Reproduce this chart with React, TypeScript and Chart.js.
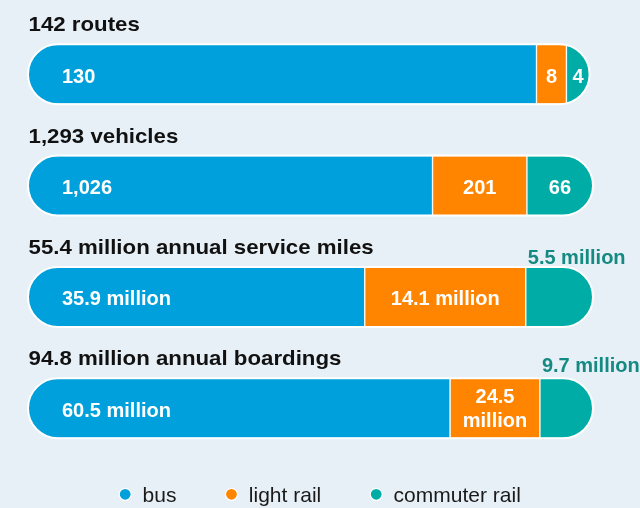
import React, { useEffect, useRef } from "react";
import { Chart, registerables } from "chart.js";

Chart.register(...registerables);

// ---- data ----
const categories = ["routes", "vehicles", "annual service miles", "annual boardings"];
const titles = [
  "142 routes",
  "1,293 vehicles",
  "55.4 million annual service miles",
  "94.8 million annual boardings",
];
const seriesNames = ["bus", "light rail", "commuter rail"];
// bar segment lengths as drawn in the picture (percent of full bar length)
const busShare = [90.0, 71.6, 59.6, 74.7];
const lightRailShare = [5.3, 16.7, 28.5, 15.9];
const commuterRailShare = [4.1, 11.7, 11.9, 9.4];
// value labels
const busLabels = ["130", "1,026", "35.9 million", "60.5 million"];
const lightRailLabels = ["8", "201", "14.1 million", "24.5\nmillion"];
const commuterRailLabels = ["4", "66", "5.5 million", "9.7 million"];

// ---- style ----
const BG = "#e7f0f7";
const COLORS = ["#00a0dc", "#ff8400", "#00aca6"];
const TEAL_TEXT = "#148a82";
const FONT = '"Liberation Sans", Arial, Helvetica, sans-serif';

function pillSubPath(ctx: CanvasRenderingContext2D, left: number, right: number, top: number, bottom: number) {
  const r = (bottom - top) / 2;
  ctx.moveTo(left + r, top);
  ctx.lineTo(right - r, top);
  ctx.arc(right - r, top + r, r, -Math.PI / 2, Math.PI / 2);
  ctx.lineTo(left + r, bottom);
  ctx.arc(left + r, top + r, r, Math.PI / 2, (3 * Math.PI) / 2);
  ctx.closePath();
}

function barGeom(chart: any, i: number) {
  const b0: any = chart.getDatasetMeta(0).data[i];
  const b1: any = chart.getDatasetMeta(1).data[i];
  const b2: any = chart.getDatasetMeta(2).data[i];
  const h = b0.height;
  return {
    left: b0.base,
    right: b2.x,
    y: b0.y,
    top: b0.y - h / 2,
    bottom: b0.y + h / 2,
    seg: [
      [b0.base, b0.x],
      [b1.base, b1.x],
      [b2.base, b2.x],
    ],
  };
}

function drawText(
  ctx: CanvasRenderingContext2D,
  text: string,
  x: number,
  y: number,
  align: CanvasTextAlign,
  sx: number
) {
  ctx.save();
  ctx.translate(x, y);
  ctx.scale(sx, 1);
  ctx.textAlign = align;
  ctx.textBaseline = "alphabetic";
  ctx.fillText(text, 0, 0);
  ctx.restore();
}

const pillPlugin = {
  id: "pillPlugin",
  beforeDraw(chart: any) {
    const ctx = chart.ctx;
    ctx.save();
    ctx.fillStyle = BG;
    ctx.fillRect(0, 0, chart.width, chart.height);
    ctx.restore();
  },
  beforeDatasetsDraw(chart: any) {
    const ctx = chart.ctx;
    ctx.save();
    ctx.beginPath();
    for (let i = 0; i < categories.length; i++) {
      const g = barGeom(chart, i);
      pillSubPath(ctx, g.left, g.right, g.top, g.bottom);
    }
    ctx.clip();
  },
  afterDatasetsDraw(chart: any) {
    const ctx = chart.ctx;
    ctx.restore();
    ctx.save();
    ctx.strokeStyle = "#ffffff";
    ctx.lineWidth = 2;
    for (let i = 0; i < categories.length; i++) {
      const g = barGeom(chart, i);
      ctx.beginPath();
      pillSubPath(ctx, g.left, g.right, g.top, g.bottom);
      ctx.stroke();
    }
    ctx.restore();
  },
  afterDraw(chart: any) {
    const ctx: CanvasRenderingContext2D = chart.ctx;
    ctx.save();
    for (let i = 0; i < categories.length; i++) {
      const g = barGeom(chart, i);
      // title
      ctx.fillStyle = "#111111";
      ctx.font = `bold 21px ${FONT}`;
      drawText(ctx, titles[i], 28.5, g.top - 13, "left", 1.06);

      ctx.font = `bold 20px ${FONT}`;
      // bus label
      ctx.fillStyle = "#ffffff";
      drawText(ctx, busLabels[i], g.left + 34, g.y + 8.5, "left", 1);

      // light rail label
      const ll = lightRailLabels[i].split("\n");
      const lc = (g.seg[1][0] + g.seg[1][1]) / 2;
      if (ll.length === 1) {
        drawText(ctx, ll[0], lc, g.y + 8.5, "center", 1);
      } else {
        drawText(ctx, ll[0], lc, g.y - 5.6, "center", 1);
        drawText(ctx, ll[1], lc, g.y + 18.4, "center", 1);
      }

      // commuter rail label
      const cl = commuterRailLabels[i];
      if (i < 2) {
        const cc = (g.seg[2][0] + g.seg[2][1]) / 2;
        drawText(ctx, cl, cc, g.y + 8.5, "center", 1);
      } else {
        ctx.fillStyle = TEAL_TEXT;
        const off = i === 2 ? 3.3 : 6.6;
        drawText(ctx, cl, g.seg[2][0] + 2, g.top - off, "left", 1);
      }
    }

    // legend
    ctx.font = `21px ${FONT}`;
    const r = 6;
    const gapText = 11.4;
    const gapItem = 49;
    const widths = seriesNames.map((s) => ctx.measureText(s).width);
    const total =
      widths.reduce((a, w) => a + 2 * r + gapText + w, 0) + gapItem * (seriesNames.length - 1);
    let x = chart.width / 2 - total / 2;
    const ly = 494.3;
    for (let k = 0; k < seriesNames.length; k++) {
      ctx.beginPath();
      ctx.arc(x + r, ly, r, 0, Math.PI * 2);
      ctx.fillStyle = COLORS[k];
      ctx.fill();
      ctx.lineWidth = 1.2;
      ctx.strokeStyle = "#ffffff";
      ctx.stroke();
      ctx.fillStyle = "#1a1a1a";
      ctx.textAlign = "left";
      ctx.textBaseline = "alphabetic";
      ctx.fillText(seriesNames[k], x + 2 * r + gapText, 502.3);
      x += 2 * r + gapText + widths[k] + gapItem;
    }
    ctx.restore();
  },
};

export default function App() {
  const ref = useRef<HTMLCanvasElement | null>(null);

  useEffect(() => {
    document.body.style.margin = "0";
    document.body.style.background = BG;
    const canvas = ref.current;
    if (!canvas) return;
    const shares = [busShare, lightRailShare, commuterRailShare];
    const chart = new Chart(canvas, {
      type: "bar",
      data: {
        labels: categories,
        datasets: seriesNames.map((name, k) => ({
          label: name,
          data: shares[k],
          backgroundColor: COLORS[k],
          borderColor: "#ffffff",
          borderWidth: 1,
          borderSkipped: false,
          barThickness: 60,
        })),
      },
      options: {
        indexAxis: "y",
        responsive: false,
        animation: false,
        events: [],
        layout: { padding: { left: 28, right: 47, top: 18.5, bottom: 44 } },
        scales: {
          x: { stacked: true, min: 0, max: 100, display: false },
          y: { stacked: true, display: false },
        },
        plugins: {
          legend: { display: false },
          tooltip: { enabled: false },
        },
      },
      plugins: [pillPlugin],
    });
    return () => chart.destroy();
  }, []);

  return (
    <div style={{ width: 640, height: 508, background: BG }}>
      <canvas ref={ref} width={640} height={508} style={{ display: "block" }} />
    </div>
  );
}
